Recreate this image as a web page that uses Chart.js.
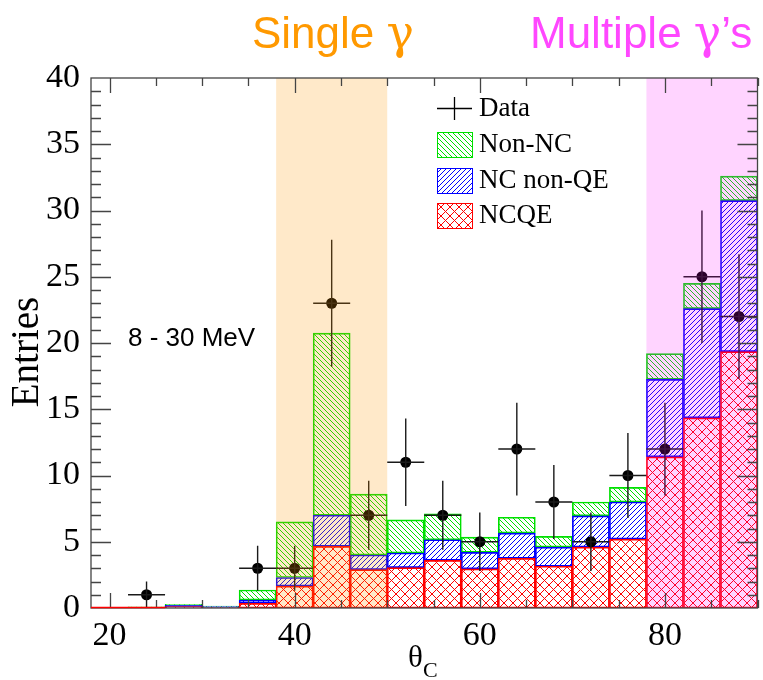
<!DOCTYPE html>
<html>
<head>
<meta charset="utf-8">
<script src="https://cdn.jsdelivr.net/npm/chart.js@4.4.1/dist/chart.umd.min.js"></script>
<style>
  html, body { margin: 0; padding: 0; background: #fff; }
</style>
</head>
<body>
<canvas id="theta" width="763" height="680"></canvas>
<script>
// theta_C histogram, 4 degree bins from 18 to 90
const binCenters = [20, 24, 28, 32, 36, 40, 44, 48, 52, 56, 60, 64, 68, 72, 76, 80, 84, 88];
const binHalf = 2;
const ncqe    = [0, 0.04, 0.1, 0.05, 0.35, 1.65, 4.65, 2.9, 3.05, 3.6, 2.95, 3.75, 3.15, 4.6, 5.2, 11.4, 14.35, 19.35];
const ncNonQE = [0, 0.02, 0.1, 0.05, 0.25, 0.65, 2.35, 1.1, 1.1, 1.55, 1.25, 1.9, 1.45, 2.35, 2.8, 5.85, 8.25, 11.4];
const nonNC   = [0, 0.02, 0.08, 0.05, 0.76, 4.2, 13.75, 4.6, 2.5, 1.95, 1.15, 1.2, 0.8, 1.05, 1.1, 1.95, 1.9, 1.85];

// observed events
const dataX   = [24, 36, 40, 44, 48, 52, 56, 60, 64, 68, 72, 76, 80, 84, 88];
const dataY   = [1, 3, 3, 23, 7, 11, 7, 5, 12, 8, 5, 10, 12, 25, 22];
const dataErr = [1, 1.7, 1.7, 4.8, 2.6, 3.3, 2.6, 2.2, 3.5, 2.8, 2.2, 3.2, 3.5, 5, 4.7];

const xTicks = [20, 40, 60, 80];
const yTicks = [0, 5, 10, 15, 20, 25, 30, 35, 40];

// shaded angular regions
const bands = [
  { from: 38, to: 50, color: 'rgba(255,153,0,0.21)' },
  { from: 78, to: 90, color: 'rgba(255,0,255,0.17)' }
];

const GREEN = '#00e000', BLUE = '#0000ff', RED = '#ff0000';

// diagonal line fills: 'back' = "\\\", 'fwd' = "///", 'cross' = both
function hatch(color, kind, size) {
  const c = document.createElement('canvas');
  c.width = c.height = size;
  const g = c.getContext('2d');
  g.strokeStyle = color;
  g.lineWidth = 1;
  g.beginPath();
  for (let i = -1; i <= 1; i++) {
    if (kind !== 'fwd') { g.moveTo(i * size, 0); g.lineTo(i * size + size, size); }
    if (kind !== 'back') { g.moveTo(i * size, size); g.lineTo(i * size + size, 0); }
  }
  g.stroke();
  return g.createPattern(c, 'repeat');
}

const greenFill = hatch(GREEN, 'back', 5);
const blueFill = hatch(BLUE, 'fwd', 5);
const redFill = hatch(RED, 'cross', 9);

const toPoints = (xs, ys) => xs.map((x, i) => ({ x, y: ys[i] }));

const serif = 'Liberation Serif';
const sans = 'Liberation Sans';

const overlay = {
  id: 'overlay',
  afterDatasetsDraw(chart) {
    const { ctx, chartArea: a, scales: { x, y } } = chart;
    ctx.save();

    // error bars on the data points
    ctx.strokeStyle = '#1a1a1a';
    ctx.lineWidth = 1.4;
    dataX.forEach((v, i) => {
      const px = x.getPixelForValue(v), py = y.getPixelForValue(dataY[i]);
      ctx.beginPath();
      ctx.moveTo(x.getPixelForValue(v - binHalf), py);
      ctx.lineTo(x.getPixelForValue(v + binHalf), py);
      ctx.moveTo(px, y.getPixelForValue(dataY[i] - dataErr[i]));
      ctx.lineTo(px, y.getPixelForValue(dataY[i] + dataErr[i]));
      ctx.stroke();
    });

    // translucent regions over everything
    bands.forEach(b => {
      const l = x.getPixelForValue(b.from), r = x.getPixelForValue(b.to);
      ctx.fillStyle = b.color;
      ctx.fillRect(l, a.top, r - l, a.bottom - a.top);
    });

    // frame and inward ticks on all four sides
    ctx.strokeStyle = '#444';
    ctx.lineWidth = 1.3;
    ctx.strokeRect(a.left, a.top, a.right - a.left, a.bottom - a.top);
    ctx.beginPath();
    for (let v = 20; v <= 90; v += 5) {
      const px = Math.round(x.getPixelForValue(v)) + 0.5;
      const len = v % 20 === 0 ? 15 : 8;
      ctx.moveTo(px, a.bottom); ctx.lineTo(px, a.bottom - len);
      ctx.moveTo(px, a.top); ctx.lineTo(px, a.top + len);
    }
    for (let v = 1; v < 40; v++) {
      const py = Math.round(y.getPixelForValue(v)) + 0.5;
      const len = v % 5 === 0 ? 20 : 10;
      ctx.moveTo(a.left, py); ctx.lineTo(a.left + len, py);
      ctx.moveTo(a.right, py); ctx.lineTo(a.right - len, py);
    }
    ctx.stroke();

    // empty first bin still shows its red baseline
    ctx.strokeStyle = RED;
    ctx.lineWidth = 1.5;
    ctx.beginPath();
    ctx.moveTo(x.getPixelForValue(binCenters[0] - binHalf), a.bottom - 0.5);
    ctx.lineTo(x.getPixelForValue(binCenters[1] + binHalf), a.bottom - 0.5);
    ctx.stroke();
    ctx.restore();
  },
  afterDraw(chart) {
    const { ctx } = chart;
    ctx.save();
    ctx.textBaseline = 'alphabetic';

    // headings over the two regions
    const heading = (x0, pre, post, color) => {
      ctx.fillStyle = color;
      ctx.font = '44px ' + sans;
      ctx.fillText(pre, x0, 48);
      let cx = x0 + ctx.measureText(pre).width;
      ctx.font = '46px "DejaVu Serif"';
      ctx.fillText('γ', cx, 48);
      cx += ctx.measureText('γ').width;
      if (post) { ctx.font = '44px ' + sans; ctx.fillText(post, cx, 48); }
    };
    heading(252, 'Single ', '', '#ff9900');
    heading(530, 'Multiple ', '’s', '#ff47ff');

    // energy window
    ctx.fillStyle = '#000';
    ctx.font = '26px ' + sans;
    ctx.fillText('8 - 30 MeV', 128, 346);

    // axis titles
    ctx.font = '31px ' + serif;
    ctx.fillText('θ', 408, 667);
    ctx.font = '22px ' + serif;
    ctx.fillText('C', 423, 677);
    ctx.save();
    ctx.translate(38, 352);
    ctx.rotate(-Math.PI / 2);
    ctx.textAlign = 'center';
    ctx.font = '39px ' + serif;
    ctx.fillText('Entries', 0, 0);
    ctx.restore();

    // legend
    const lx = 437, lw = 35;
    ctx.strokeStyle = '#000';
    ctx.lineWidth = 1.3;
    ctx.beginPath();
    ctx.moveTo(lx, 108.5); ctx.lineTo(lx + lw, 108.5);
    ctx.moveTo(lx + lw / 2, 97); ctx.lineTo(lx + lw / 2, 120);
    ctx.stroke();
    const items = [
      { label: 'Non-NC', fill: greenFill, line: GREEN, top: 132 },
      { label: 'NC non-QE', fill: blueFill, line: BLUE, top: 168 },
      { label: 'NCQE', fill: redFill, line: RED, top: 203 }
    ];
    ctx.lineWidth = 1;
    items.forEach(it => {
      ctx.fillStyle = it.fill;
      ctx.fillRect(lx, it.top, lw, 25);
      ctx.strokeStyle = it.line;
      ctx.strokeRect(lx + 0.5, it.top + 0.5, lw, 25);
    });
    ctx.fillStyle = '#000';
    ctx.font = '27px ' + serif;
    ctx.fillText('Data', 479, 116);
    items.forEach(it => ctx.fillText(it.label, 479, it.top + 20));
    ctx.restore();
  }
};

const barStyle = { stack: 'mc', order: 1, borderWidth: 1, borderSkipped: false, barPercentage: 1, categoryPercentage: 1 };

new Chart(document.getElementById('theta'), {
  type: 'bar',
  data: {
    datasets: [
      { type: 'scatter', label: 'Data', data: toPoints(dataX, dataY), stack: 'data', order: 0,
        pointRadius: 5.5, pointHoverRadius: 5.5, pointBackgroundColor: '#000', pointBorderWidth: 0 },
      { ...barStyle, label: 'NCQE', data: toPoints(binCenters, ncqe), backgroundColor: redFill, borderColor: RED },
      { ...barStyle, label: 'NC non-QE', data: toPoints(binCenters, ncNonQE), backgroundColor: blueFill, borderColor: BLUE },
      { ...barStyle, label: 'Non-NC', data: toPoints(binCenters, nonNC), backgroundColor: greenFill, borderColor: GREEN }
    ]
  },
  options: {
    responsive: false,
    animation: false,
    devicePixelRatio: 1,
    layout: { padding: { top: 78, right: 2, left: 0, bottom: 0 } },
    plugins: { legend: { display: false }, tooltip: { enabled: false } },
    scales: {
      x: {
        type: 'linear', min: 18, max: 90, stacked: true, offset: false,
        grid: { display: false }, border: { display: false },
        afterBuildTicks: s => { s.ticks = xTicks.map(v => ({ value: v })); },
        afterFit: s => { s.height = 72; },
        ticks: { color: '#000', padding: 0, maxRotation: 0, autoSkip: false, font: { family: serif, size: 34 } }
      },
      y: {
        min: 0, max: 40, stacked: true,
        grid: { display: false }, border: { display: false },
        afterBuildTicks: s => { s.ticks = yTicks.map(v => ({ value: v })); },
        afterFit: s => { s.width = 91; },
        ticks: { color: '#000', padding: 3, autoSkip: false, font: { family: serif, size: 34 } }
      }
    }
  },
  plugins: [overlay]
});
</script>
</body>
</html>
